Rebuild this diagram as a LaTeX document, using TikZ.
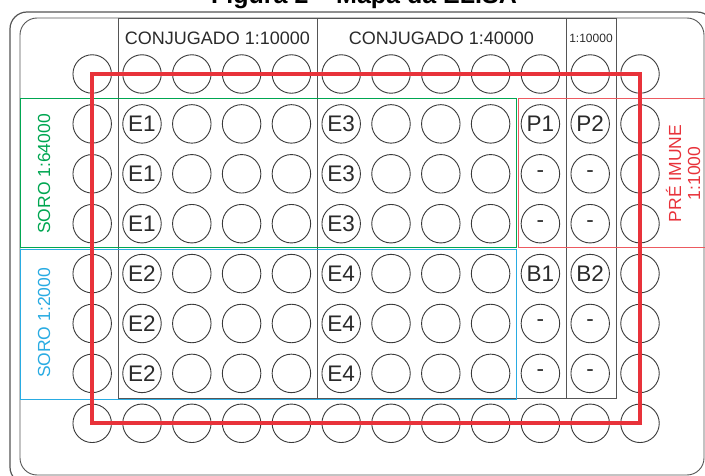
\documentclass[tikz,border=0pt]{standalone}
\usepackage{fontspec}
\setmainfont{Liberation Sans}
\definecolor{gline}{HTML}{555555}
\definecolor{wellc}{HTML}{3A3A3A}
\definecolor{txtc}{HTML}{2A2A2A}
\definecolor{sgreen}{HTML}{00A651}
\definecolor{scyan}{HTML}{29ABE2}
\definecolor{sred}{HTML}{E8323A}
\definecolor{lred}{HTML}{EC5A60}
\begin{document}
\begin{tikzpicture}[x=1pt,y=-1pt,
  well/.style={circle,draw=wellc,line width=0.9pt,minimum size=38.5pt,inner sep=0pt},
  welltext/.style={text=txtc,inner sep=0pt,font=\fontsize{22.5}{22.5}\selectfont},
  frame/.style={draw=gline,line width=0.9pt},
  hdr/.style={text=txtc,inner sep=0pt,font=\fontsize{18}{18}\selectfont},
  sidelbl/.style={rotate=90,inner sep=0pt,font=\fontsize{17.5}{19}\selectfont,align=center}]
\useasboundingbox (0,0) rectangle (705,476);
% title (cut off at the top as in the reference)
\node[anchor=base,inner sep=0pt,font=\bfseries\fontsize{25}{25}\selectfont] (title) at (364,4) {Figura 2 – Mapa da ELISA};
% plate outline
\draw[draw=gline,line width=1.2pt,rounded corners=17pt] (10,12) rectangle (714,484);
\draw[frame,rounded corners=17pt] (20,18) rectangle (704,475);
% column header boxes
\draw[frame] (118,18) rectangle (317,398);
\draw[frame] (317,18) rectangle (566,398);
\draw[frame] (566,18) rectangle (616,398);
% serum regions
\draw[sgreen,line width=1pt] (20,98.5) rectangle (516,248);
\draw[scyan,line width=1pt] (20,250) rectangle (516,399.3);
\draw[lred,line width=1pt] (518,98.5) rectangle (720,247.5);
% wells
\foreach \r in {0,...,7}
  \foreach \c in {0,...,11}
    \node[well] (w-\r-\c) at ({92.2+49.8*\c},{74+49.9*\r}) {};
% well labels
\foreach \r/\a/\b in {1/E1/E3,2/E1/E3,3/E1/E3,4/E2/E4,5/E2/E4,6/E2/E4}{
  \node[welltext] (la-\r) at (w-\r-1) {\a};
  \node[welltext] (lb-\r) at (w-\r-5) {\b};
}
\foreach \r/\a/\b in {1/P1/P2,2/-/-,3/-/-,4/B1/B2,5/-/-,6/-/-}{
  \node[welltext] (lc-\r) at (w-\r-9) {\a};
  \node[welltext] (ld-\r) at (w-\r-10) {\b};
}
% header texts
\node[hdr] (h1) at (217.5,38.3) {CONJUGADO 1:10000};
\node[hdr] (h2) at (441.5,38.3) {CONJUGADO 1:40000};
\node[text=txtc,inner sep=0pt,font=\fontsize{12}{12}\selectfont] (h3) at (591,38.3) {1:10000};
% side labels
\node[sidelbl,text=sgreen] (s1) at (44,174) {SORO 1:64000};
\node[sidelbl,text=scyan] (s2) at (44,323) {SORO 1:2000};
\node[sidelbl,text=sred] (s3) at (683,173.5) {PRÉ IMUNE\\1:1000};
% thick red rectangle through the outer wells
\draw[sred,line width=4pt] (w-0-0.center) rectangle (w-7-11.center);
\end{tikzpicture}
\end{document}
